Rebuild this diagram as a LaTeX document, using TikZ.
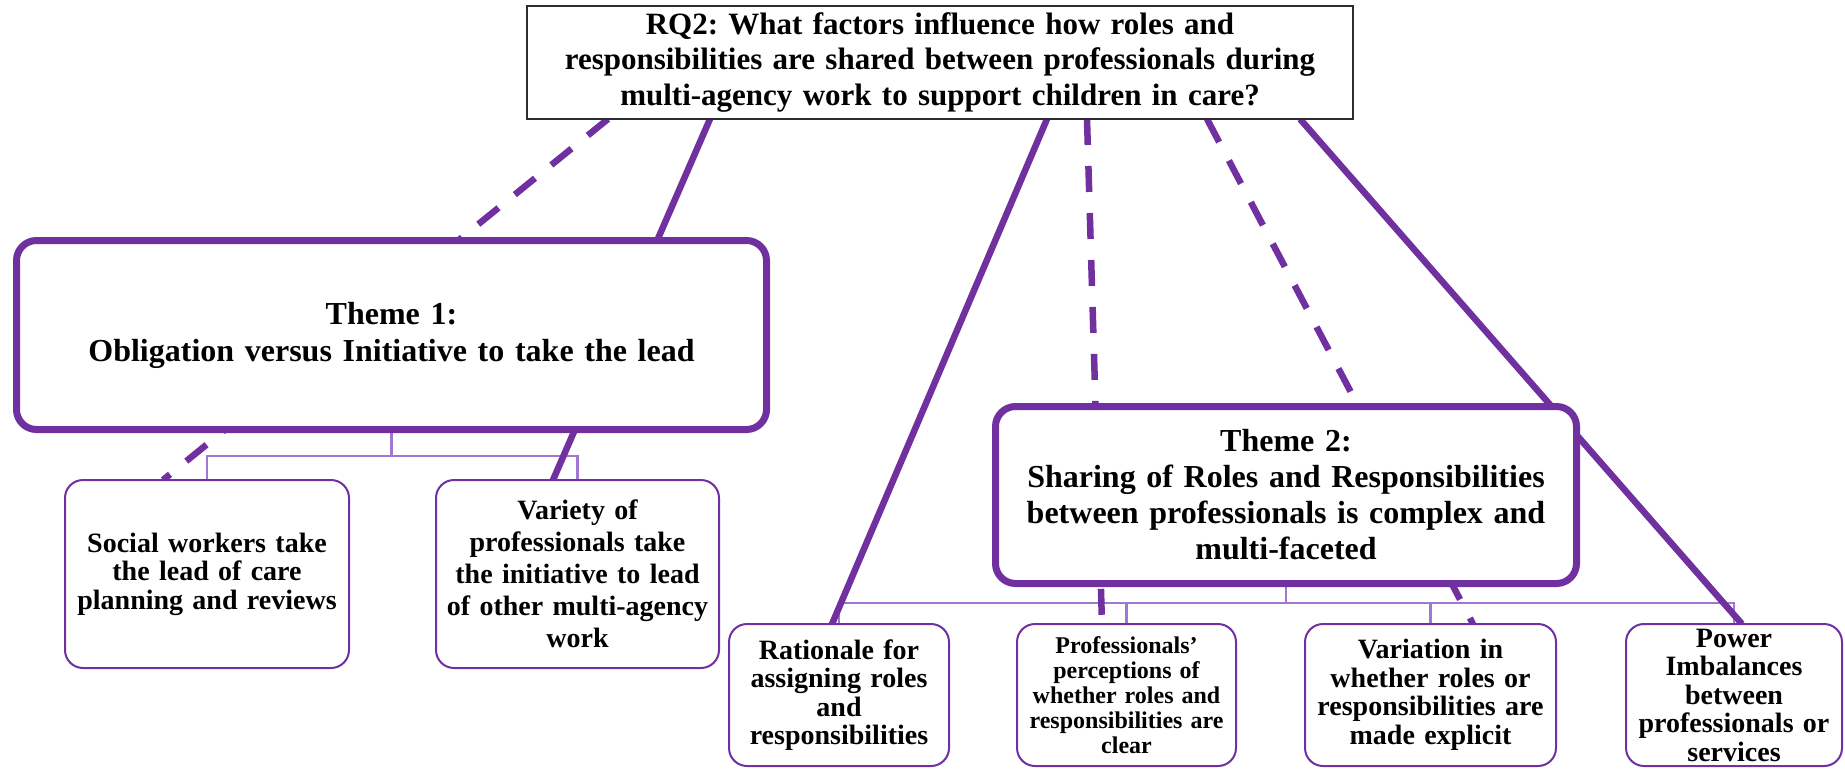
\documentclass[tikz,border=0pt]{standalone}
\usepackage{fontspec}
\setmainfont{Liberation Serif}
\usetikzlibrary{backgrounds}
\definecolor{themepurple}{RGB}{112,48,160}
\definecolor{buspurple}{RGB}{160,120,210}
\definecolor{rqedge}{RGB}{45,45,45}
\frenchspacing

\begin{document}
\begin{tikzpicture}[x=1pt,y=-1pt,
  every node/.style={outer sep=0pt, inner sep=0pt, align=center, fill=white},
  fs/.style 2 args={font=\fontsize{#1}{#2}\selectfont\bfseries},
  rqbox/.style={draw=rqedge, line width=1.5pt, minimum width=826pt, minimum height=113pt, text width=810pt},
  themebox/.style={draw=themepurple, line width=7pt, rounded corners=20pt},
  subbox/.style={draw=themepurple, line width=2pt, rounded corners=18pt},
  link/.style={draw=themepurple, line width=6.5pt},
  dashlink/.style={link, dash pattern=on 26pt off 21pt},
  bus/.style={draw=buspurple, line width=2.5pt},
]
\useasboundingbox (0,0) rectangle (1845,769);

% research question
\node[rqbox, fs={31}{35.5}] (rq) at (940,62.5)
  {RQ2: What factors influence how roles and\\
   responsibilities are shared between professionals during\\
   multi-agency work to support children in care?};

% themes
\node[themebox, minimum width=750pt, minimum height=189pt, text width=730pt, fs={32}{37}] (t1) at (391.5,335)
  {Theme 1:\\ Obligation versus Initiative to take the lead};
\node[themebox, minimum width=581pt, minimum height=177pt, text width=565pt, fs={32}{36}] (t2) at (1286,495)
  {Theme 2:\\ Sharing of Roles and Responsibilities\\ between professionals is complex and\\ multi-faceted};

% sub-themes of theme 1
\node[subbox, minimum width=284pt, minimum height=188pt, text width=274pt, fs={28}{28.5}] (s1) at (207,574)
  {Social workers take\\ the lead of care\\ planning and reviews};
\node[subbox, minimum width=283pt, minimum height=188pt, text width=274pt, fs={28}{32}] (s2) at (577.5,574)
  {Variety of\\ professionals take\\ the initiative to lead\\ of other multi-agency\\ work};

% sub-themes of theme 2
\node[subbox, minimum width=220pt, minimum height=142pt, text width=214pt, fs={28}{28.5}] (a) at (839,695)
  {Rationale for\\ assigning roles\\ and\\ responsibilities};
\node[subbox, minimum width=219pt, minimum height=142pt, text width=213pt, fs={24}{25}] (b) at (1126.5,695)
  {Professionals’\\ perceptions of\\ whether roles and\\ responsibilities are\\ clear};
\node[subbox, minimum width=251pt, minimum height=142pt, text width=245pt, fs={28}{28.5}] (c) at (1430.5,695)
  {Variation in\\ whether roles or\\ responsibilities are\\ made explicit};
\node[subbox, minimum width=216pt, minimum height=142pt, text width=212pt, fs={28}{28.5}] (d) at (1734,695)
  {Power\\ Imbalances\\ between\\ professionals or\\ services};

\begin{scope}[on background layer]
  \fill[white] (0,0) rectangle (1845,769);
  \coordinate (j1) at (391.5,456);
  \coordinate (j2) at (1286,603);
  % hierarchy buses
  \draw[bus] (t1.south) -- (j1);
  \draw[bus] (s1.north) |- (j1) -| (s2.north);
  \draw[bus] (t2.south) -- (j2);
  \draw[bus] (a.north) |- (j2) -| (d.north);
  \draw[bus] (b.north) |- (j2);
  \draw[bus] (c.north) |- (j2);
  % links from the research question to the sub-themes
  \draw[dashlink] ([xshift=-332pt]rq.south) -- ([xshift=-44pt]s1.north);
  \draw[link]     ([xshift=-230pt]rq.south) -- ([xshift=-24.5pt]s2.north);
  \draw[link]     ([xshift=107pt]rq.south)  -- ([xshift=-7pt]a.north);
  \draw[dashlink] ([xshift=147pt]rq.south)  -- ([xshift=-24.5pt]b.north);
  \draw[dashlink] ([xshift=267pt]rq.south)  -- ([xshift=42.5pt]c.north);
  \draw[link]     ([xshift=360pt]rq.south)  -- ([xshift=8pt]d.north);
\end{scope}
\end{tikzpicture}
\end{document}
